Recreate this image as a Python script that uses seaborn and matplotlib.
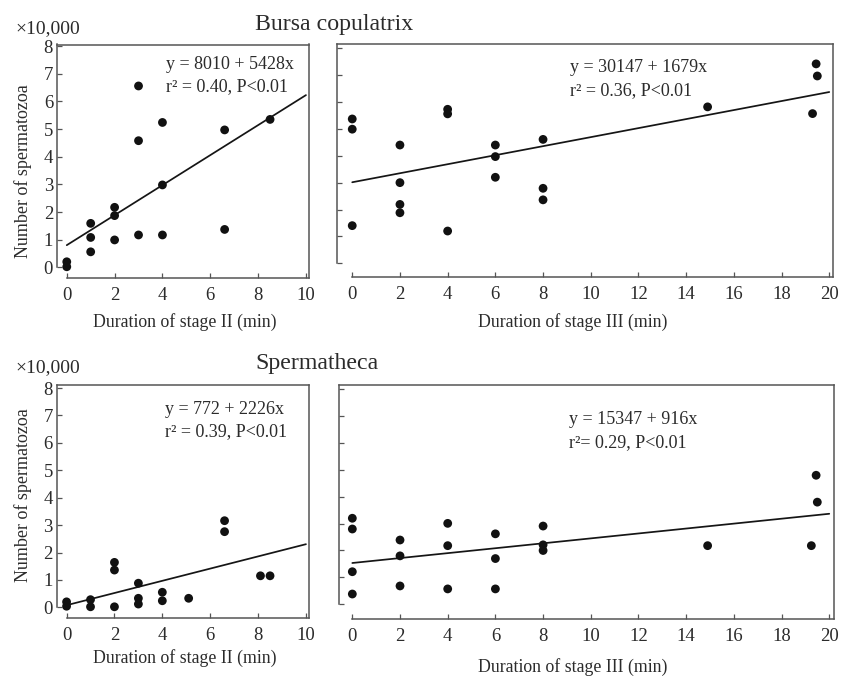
import matplotlib
matplotlib.use("Agg")
import matplotlib.pyplot as plt
import numpy as np
import pandas as pd
import seaborn as sns

# ---------------------------------------------------------------------------
# Data (number of spermatozoa in units of 10,000)
# ---------------------------------------------------------------------------
bursa_stage2_x = [0, 0, 1, 1, 1, 2, 2, 2, 3, 3, 3, 4, 4, 4, 6.6, 6.6, 8.5]
bursa_stage2_y = [0.2, 0.02, 1.59, 1.08, 0.56, 2.17, 1.87, 0.99,
                  6.56, 4.58, 1.17, 5.24, 2.98, 1.17, 4.97, 1.37, 5.35]

bursa_stage3_x = [0, 0, 0, 2, 2, 2, 2, 4, 4, 4, 6, 6, 6, 8, 8, 8,
                  14.9, 19.3, 19.45, 19.5]
bursa_stage3_y = [5.37, 4.99, 1.40, 4.40, 3.00, 2.19, 1.88, 5.73, 5.56, 1.20,
                  4.40, 3.97, 3.20, 4.61, 2.79, 2.36, 5.82, 5.57, 7.42, 6.97]

sperm_stage2_x = [0, 0, 1, 1, 2, 2, 2, 3, 3, 3, 4, 4, 5.1, 6.6, 6.6, 8.1, 8.5]
sperm_stage2_y = [0.2, 0.04, 0.28, 0.02, 1.64, 1.36, 0.02, 0.88, 0.33, 0.12,
                  0.55, 0.24, 0.33, 3.16, 2.76, 1.15, 1.15]

sperm_stage3_x = [0, 0, 0, 0, 2, 2, 2, 4, 4, 4, 6, 6, 6, 8, 8, 8,
                  14.9, 19.25, 19.45, 19.5]
sperm_stage3_y = [3.20, 2.80, 1.21, 0.38, 2.39, 1.80, 0.68, 3.01, 2.18, 0.57,
                  2.62, 1.70, 0.57, 2.91, 2.21, 2.00, 2.18, 2.18, 4.80, 3.80]

# Regression fits: intercept, slope (spermatozoa per minute), r^2
fit_intercepts = [8010, 30147, 772, 15347]
fit_slopes = [5428, 1679, 2226, 916]
fit_r2_labels = ["r\u00b2 = 0.40, P<0.01", "r\u00b2 = 0.36, P<0.01",
                 "r\u00b2 = 0.39, P<0.01", "r\u00b2= 0.29, P<0.01"]

y_ticks = [0, 1, 2, 3, 4, 5, 6, 7, 8]
x_ticks_stage2 = [0, 2, 4, 6, 8, 10]
x_ticks_stage3 = [0, 2, 4, 6, 8, 10, 12, 14, 16, 18, 20]

# ---------------------------------------------------------------------------
# Style
# ---------------------------------------------------------------------------
sns.set_style("ticks")
plt.rcParams["font.family"] = ["Liberation Serif", "DejaVu Serif"]
INK = "#2b2b2b"
SPINE = "#555555"
DOT = "#111111"

W, H = 841, 677
fig = plt.figure(figsize=(W / 100, H / 100), dpi=100)


def add_panel(left, right, top, bottom):
    return fig.add_axes([left / W, 1 - bottom / H, (right - left) / W, (bottom - top) / H])


panels = [
    dict(rect=(57.2, 309.3, 44.5, 277.7), xlim=(-0.40, 10.14), ylim=(-0.376, 8.06),
         x=bursa_stage2_x, y=bursa_stage2_y, xt=x_ticks_stage2,
         xlabel="Duration of stage II (min)", xl_pos=(184.5, 321.7), line_end=10,
         eq_pos=(4.13, 7.32, 6.52), left=True, yl_pos=(23, 171)),
    dict(rect=(336.5, 833.3, 44.0, 276.7), xlim=(-0.66, 20.17), ylim=(-0.50, 8.16),
         x=bursa_stage3_x, y=bursa_stage3_y, xt=x_ticks_stage3,
         xlabel="Duration of stage III (min)", xl_pos=(572.7, 321.7), line_end=20,
         eq_pos=(9.13, 7.27, 6.41), left=False, yl_pos=None),
    dict(rect=(57.0, 309.3, 385.0, 618.3), xlim=(-0.40, 10.14), ylim=(-0.40, 8.11),
         x=sperm_stage2_x, y=sperm_stage2_y, xt=x_ticks_stage2,
         xlabel="Duration of stage II (min)", xl_pos=(184.5, 658.0), line_end=10,
         eq_pos=(4.13, 7.20, 6.40), left=True, yl_pos=(23, 495.3)),
    dict(rect=(338.5, 834.0, 385.0, 619.0), xlim=(-0.58, 20.2), ylim=(-0.55, 8.16),
         x=sperm_stage3_x, y=sperm_stage3_y, xt=x_ticks_stage3,
         xlabel="Duration of stage III (min)", xl_pos=(572.7, 666.7), line_end=20,
         eq_pos=(9.09, 6.86, 6.00), left=False, yl_pos=None),
]

for i, p in enumerate(panels):
    ax = add_panel(*p["rect"])
    df = pd.DataFrame({"duration": p["x"], "count": p["y"]})

    # fitted regression line, drawn from the reported coefficients
    a = fit_intercepts[i] / 10000
    b = fit_slopes[i] / 10000
    line_x = np.array([0, p["line_end"]])
    line_df = pd.DataFrame({"duration": line_x, "count": a + b * line_x})
    sns.lineplot(data=line_df, x="duration", y="count", ax=ax, color="#151515",
                 linewidth=1.25, zorder=2)

    sns.scatterplot(data=df, x="duration", y="count", ax=ax, color=DOT, s=40,
                    edgecolor="none", linewidth=0, zorder=3)

    ax.set_xlim(*p["xlim"])
    ax.set_ylim(*p["ylim"])
    ax.set_xticks(p["xt"])
    ax.set_yticks(y_ticks)

    for side in ["left", "bottom", "top", "right"]:
        ax.spines[side].set_visible(True)
        ax.spines[side].set_color(SPINE)
        ax.spines[side].set_linewidth(1.1)
    ax.spines["left"].set_bounds(0, p["ylim"][1])
    ax.spines["bottom"].set_bounds(0, p["xlim"][1])

    ax.tick_params(axis="both", direction="in", length=3.5, width=0.9,
                   color=SPINE, labelcolor=INK, labelsize=13.5)
    ax.tick_params(axis="x", pad=6.5)
    ax.tick_params(axis="y", pad=3)
    if not p["left"]:
        ax.tick_params(axis="y", labelleft=False)

    ax.set_xlabel(p["xlabel"], fontsize=12.8, color=INK)
    ax.xaxis.set_label_coords(p["xl_pos"][0] / W, 1 - p["xl_pos"][1] / H,
                              transform=fig.transFigure)
    ax.xaxis.label.set_va("center")
    if p["left"]:
        ax.set_ylabel("Number of spermatozoa", fontsize=13, color=INK)
        ax.yaxis.set_label_coords(p["yl_pos"][0] / W, 1 - p["yl_pos"][1] / H,
                                  transform=fig.transFigure)
        ax.yaxis.label.set_va("center")
    else:
        ax.set_ylabel("")

    ex, ey1, ey2 = p["eq_pos"]
    ax.text(ex, ey1, f"y = {fit_intercepts[i]} + {fit_slopes[i]}x",
            fontsize=13, color=INK, ha="left", va="center")
    ax.text(ex, ey2, fit_r2_labels[i], fontsize=13, color=INK,
            ha="left", va="center")

# Section titles and unit multipliers
fig.text(255 / W, 1 - 30 / H, "Bursa copulatrix", fontsize=17.2, color=INK,
         ha="left", va="baseline")
fig.text(255 / W, 1 - 369 / H, "Spermatheca", fontsize=17.2, color=INK,
         ha="left", va="baseline")
fig.text(15 / W, 1 - 33.3 / H, "\u00d710,000", fontsize=14, color=INK,
         ha="left", va="baseline")
fig.text(15 / W, 1 - 371.7 / H, "\u00d710,000", fontsize=14, color=INK,
         ha="left", va="baseline")

fig.savefig("out.png", dpi=100, facecolor="white")
